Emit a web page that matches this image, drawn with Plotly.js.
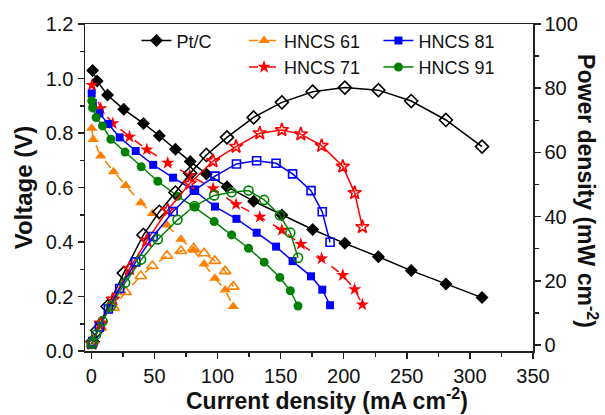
<!DOCTYPE html>
<html>
<head>
<meta charset="utf-8">
<script src="https://cdn.plot.ly/plotly-3.0.1.min.js"></script>
<style>
html,body{margin:0;padding:0;background:#fff;}
#chart{width:605px;height:415px;}
</style>
</head>
<body>
<div id="chart"></div>
<script>
// ---- Data ----
const seriesNames = ['Pt/C', 'HNCS 61', 'HNCS 71', 'HNCS 81', 'HNCS 91'];

const currentPtC = [1, 4.6, 12.9, 25.7, 41.3, 53.9, 66.7, 78.4, 91.2, 107.5, 128.6, 151, 175.4, 200.9, 227.5, 253.5, 281, 309.6];
const voltagePtC = [1.029, 0.991, 0.939, 0.887, 0.835, 0.790, 0.740, 0.695, 0.650, 0.603, 0.550, 0.499, 0.446, 0.395, 0.346, 0.295, 0.246, 0.196];
const powerPtC   = [1.0, 4.5, 12.0, 22.4, 34.3, 41.5, 47.5, 53.5, 59.2, 64.7, 70.9, 75.6, 78.9, 80.2, 79.4, 76.0, 70.1, 61.8];

const current61 = [0.3, 1.5, 7.5, 17.6, 27.2, 39.2, 48.4, 60, 71, 81, 89.4, 97.9, 106.1, 112.5];
const voltage61 = [0.817, 0.776, 0.716, 0.658, 0.607, 0.544, 0.505, 0.462, 0.410, 0.370, 0.319, 0.267, 0.224, 0.163];
const power61   = [0.2, 1.2, 5.4, 11.6, 16.5, 21.5, 24.6, 27.8, 29.3, 30.1, 28.6, 26.2, 23.0, 18.2];

const current71 = [0.5, 7.5, 17, 30.3, 44, 60.5, 78, 96.5, 114.7, 133.5, 151, 166, 182.5, 199.3, 208.7, 214.8];
const voltage71 = [0.976, 0.890, 0.835, 0.786, 0.739, 0.690, 0.645, 0.597, 0.538, 0.492, 0.444, 0.392, 0.339, 0.278, 0.226, 0.170];
const power71   = [0.5, 6.7, 14.2, 23.8, 32.5, 42.0, 50.3, 57.3, 61.8, 66.0, 67.0, 65.7, 62.1, 55.6, 47.4, 36.8];

const current81 = [0.3, 1.2, 6.4, 13.5, 22.5, 35.2, 49, 64.8, 81.7, 98, 115, 131, 146.4, 159.5, 174.1, 183, 189.2];
const voltage81 = [0.945, 0.910, 0.872, 0.833, 0.784, 0.734, 0.683, 0.636, 0.588, 0.530, 0.485, 0.434, 0.383, 0.330, 0.274, 0.225, 0.168];
const power81   = [0.3, 1.1, 5.6, 11.2, 17.6, 25.9, 33.8, 41.6, 48.2, 52.6, 56.4, 57.4, 56.6, 53.3, 48.1, 41.5, 32.0];

const current91 = [0.3, 1, 3.8, 8.9, 15.5, 26.8, 39.5, 52.7, 68.3, 81.8, 97.4, 111.2, 124.6, 137, 149.4, 157.7, 163.8];
const voltage91 = [0.918, 0.892, 0.857, 0.826, 0.777, 0.730, 0.676, 0.623, 0.568, 0.528, 0.475, 0.426, 0.377, 0.326, 0.270, 0.221, 0.165];
const power91   = [0.3, 0.9, 3.3, 7.4, 12.1, 19.4, 26.6, 32.9, 39.0, 43.3, 46.6, 47.6, 48.1, 45.2, 40.4, 35.0, 27.2];

const xTitle  = '<b>Current density (mA cm<sup>-2</sup>)</b>';
const yTitle  = '<b>Voltage (V)</b>';
const y2Title = '<b>Power density (mW cm<sup>-2</sup>)</b>';

// ---- Styles ----
const FONT = 'Arial, "Liberation Sans", Helvetica, sans-serif';
const styles = [
  {color:'#000000', sym:'diamond',     size:10, vdash:'solid', pdash:'solid', legend:'legend'},
  {color:'#FF8000', sym:'triangle-up', size:10, vdash:'dash',  pdash:'dash',  legend:'legend2'},
  {color:'#FF0000', sym:'star',        size:10, vdash:'dash',  pdash:'solid', legend:'legend2'},
  {color:'#0000FF', sym:'square',      size:8,  vdash:'solid', pdash:'solid', legend:'legend3'},
  {color:'#008000', sym:'circle',      size:9,  vdash:'solid', pdash:'solid', legend:'legend3'}
];
const dataSets = [
  [currentPtC, voltagePtC, powerPtC],
  [current61, voltage61, power61],
  [current71, voltage71, power71],
  [current81, voltage81, power81],
  [current91, voltage91, power91]
];

const traces = [];
dataSets.forEach((d, i) => {
  const s = styles[i];
  traces.push({
    x: d[0], y: d[2], yaxis: 'y2', type: 'scatter', mode: 'lines+markers',
    name: seriesNames[i] + ' power', showlegend: false,
    line: {color: s.color, width: 1.5, dash: s.pdash},
    marker: {symbol: s.sym + '-open', size: s.size, color: s.color, line: {color: s.color, width: 1.6}}
  });
});
dataSets.forEach((d, i) => {
  const s = styles[i];
  traces.push({
    x: d[0], y: d[1], yaxis: 'y', type: 'scatter', mode: 'lines+markers',
    name: seriesNames[i], legend: s.legend,
    line: {color: s.color, width: 1.5, dash: s.vdash},
    marker: {symbol: s.sym, size: s.size, color: s.color, line: {width: 0}}
  });
});

const axisCommon = {
  showgrid: false, zeroline: false, showline: true, linecolor: '#222', linewidth: 1.5,
  ticks: 'outside', ticklen: 6, tickwidth: 1.5, tickcolor: '#222',
  tickfont: {family: FONT, size: 20, color: '#111'}
};

const legendCommon = {
  orientation: 'v', xanchor: 'left', yanchor: 'top', y: 1.005,
  bgcolor: 'rgba(0,0,0,0)', borderwidth: 0, tracegroupgap: 0,
  font: {family: FONT, size: 18, color: '#111'}
};

const layout = {
  width: 605, height: 415,
  margin: {l: 85, r: 72, t: 24, b: 64},
  paper_bgcolor: '#fff', plot_bgcolor: '#fff',
  font: {family: FONT, color: '#111'},
  xaxis: Object.assign({}, axisCommon, {
    range: [-5, 350], dtick: 50, tick0: 0, mirror: true,
    minor: {dtick: 25, ticks: 'outside', ticklen: 4, tickwidth: 1.5, tickcolor: '#222'}
  }),
  yaxis: Object.assign({}, axisCommon, {
    range: [0, 1.2], dtick: 0.2, tick0: 0, tickformat: '.1f',
    minor: {dtick: 0.1, ticks: 'outside', ticklen: 4, tickwidth: 1.5, tickcolor: '#222'},
    title: {text: yTitle, font: {family: FONT, size: 24, color: '#111'}, standoff: 6}
  }),
  yaxis2: Object.assign({}, axisCommon, {
    overlaying: 'y', side: 'right', range: [-1.87, 100], dtick: 20, tick0: 0,
    minor: {dtick: 10, ticks: 'outside', ticklen: 4, tickwidth: 1.5, tickcolor: '#222'}
  }),
  legend: Object.assign({}, legendCommon, {x: 0.115}),
  legend2: Object.assign({}, legendCommon, {x: 0.355}),
  legend3: Object.assign({}, legendCommon, {x: 0.655}),
  annotations: [
    {
      text: xTitle, xref: 'paper', yref: 'paper', x: 0.54, y: -0.147,
      xanchor: 'center', yanchor: 'middle', showarrow: false,
      font: {family: FONT, size: 23, color: '#111'}
    },
    {
      text: y2Title, textangle: 90,
      xref: 'paper', yref: 'paper', x: 1.122, y: 0.49, xanchor: 'center', yanchor: 'middle',
      showarrow: false, font: {family: FONT, size: 23, color: '#111'}
    }
  ]
};

Plotly.newPlot('chart', traces, layout, {displayModeBar: false, staticPlot: true});
</script>
</body>
</html>
